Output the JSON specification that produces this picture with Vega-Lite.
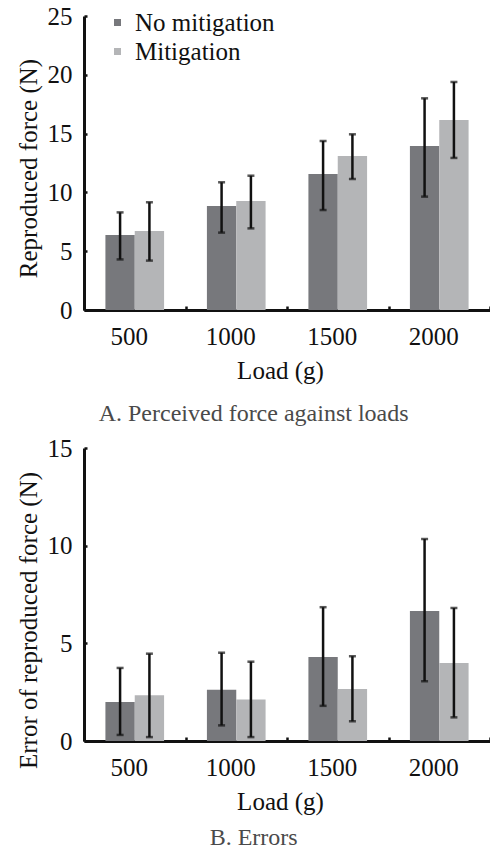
{
  "$schema": "https://vega.github.io/schema/vega-lite/v6.json",
  "padding": {"left": 16, "top": 4, "right": 0, "bottom": 0},
  "spacing": 138,
  "bounds": "flush",
  "config": {
    "view": {"stroke": null},
    "font": "Liberation Serif",
    "axis": {"labelFont": "Liberation Serif", "titleFont": "Liberation Serif", "labelFontSize": 25, "titleFontSize": 25, "titleFontWeight": "normal", "labelColor": "#111", "titleColor": "#111", "domainColor": "#111", "domainWidth": 3, "tickColor": "#111", "tickWidth": 2.5, "grid": false},
    "axisX": {"tickSize": -4, "labelPadding": 18, "labelAngle": 0, "tickBand": "extent", "titlePadding": 9, "labelOffset": -6},
    "axisY": {"tickSize": -3, "labelPadding": 15, "titlePadding": 6},
    "legend": {"labelFont": "Liberation Serif", "labelFontSize": 25, "labelColor": "#111", "symbolType": "square", "symbolSize": 49, "symbolStrokeWidth": 0, "labelOffset": 5, "rowPadding": 3},
    "title": {"font": "Liberation Serif", "fontSize": 24, "fontWeight": "normal", "color": "#4a4a4a"}
  },
  "datasets": {
    "force": [
      {"load": "500", "cond": "No mitigation", "mean": 6.38, "lo": 4.3, "hi": 8.3},
      {"load": "500", "cond": "Mitigation", "mean": 6.72, "lo": 4.2, "hi": 9.16},
      {"load": "1000", "cond": "No mitigation", "mean": 8.84, "lo": 6.58, "hi": 10.86},
      {"load": "1000", "cond": "Mitigation", "mean": 9.27, "lo": 6.94, "hi": 11.42},
      {"load": "1500", "cond": "No mitigation", "mean": 11.56, "lo": 8.5, "hi": 14.37},
      {"load": "1500", "cond": "Mitigation", "mean": 13.1, "lo": 11.14, "hi": 14.94},
      {"load": "2000", "cond": "No mitigation", "mean": 13.95, "lo": 9.64, "hi": 18.0},
      {"load": "2000", "cond": "Mitigation", "mean": 16.16, "lo": 12.93, "hi": 19.39}
    ],
    "error": [
      {"load": "500", "cond": "No mitigation", "mean": 2.0, "lo": 0.31, "hi": 3.74},
      {"load": "500", "cond": "Mitigation", "mean": 2.34, "lo": 0.2, "hi": 4.47},
      {"load": "1000", "cond": "No mitigation", "mean": 2.63, "lo": 0.8, "hi": 4.52},
      {"load": "1000", "cond": "Mitigation", "mean": 2.12, "lo": 0.2, "hi": 4.06},
      {"load": "1500", "cond": "No mitigation", "mean": 4.3, "lo": 1.8, "hi": 6.85},
      {"load": "1500", "cond": "Mitigation", "mean": 2.66, "lo": 1.01, "hi": 4.34},
      {"load": "2000", "cond": "No mitigation", "mean": 6.66, "lo": 3.06, "hi": 10.34},
      {"load": "2000", "cond": "Mitigation", "mean": 3.99, "lo": 1.21, "hi": 6.81}
    ]
  },
  "vconcat": [
    {
      "width": 406,
      "height": 294,
      "title": {"text": "A. Perceived force against loads", "orient": "bottom", "offset": 19, "frame": "bounds", "anchor": "middle"},
      "data": {"name": "force"},
      "encoding": {
        "x": {"field": "load", "type": "nominal", "sort": null, "scale": {"paddingInner": 0, "paddingOuter": 0}, "axis": {"title": "Load (g)", "titleX": 196}},
        "xOffset": {"field": "cond", "type": "nominal", "sort": ["No mitigation", "Mitigation"], "scale": {"domain": ["No mitigation", "Mitigation"], "paddingOuter": 0.73, "paddingInner": 0}}
      },
      "layer": [
        {
          "mark": {"type": "bar"},
          "encoding": {
            "y": {"field": "mean", "type": "quantitative", "title": "Reproduced force (N)", "scale": {"domain": [0, 25], "nice": false}, "axis": {"values": [0, 5, 10, 15, 20, 25], "titleY": 152}},
            "color": {"field": "cond", "type": "nominal", "scale": {"domain": ["No mitigation", "Mitigation"], "range": ["#77787c", "#b4b5b7"]}, "legend": {"title": null, "orient": "none", "legendX": 21, "legendY": -6}}
          }
        },
        {
          "mark": {"type": "rule", "color": "#111", "strokeWidth": 2.5},
          "encoding": {"y": {"field": "lo", "type": "quantitative", "title": "Reproduced force (N)"}, "y2": {"field": "hi"}}
        },
        {
          "mark": {"type": "tick", "orient": "horizontal", "color": "#111", "size": 7, "thickness": 2.5},
          "encoding": {"y": {"field": "lo", "type": "quantitative", "title": "Reproduced force (N)"}}
        },
        {
          "mark": {"type": "tick", "orient": "horizontal", "color": "#111", "size": 7, "thickness": 2.5},
          "encoding": {"y": {"field": "hi", "type": "quantitative", "title": "Reproduced force (N)"}}
        }
      ]
    },
    {
      "width": 406,
      "height": 293,
      "title": {"text": "B. Errors", "orient": "bottom", "offset": 12, "frame": "bounds", "anchor": "middle"},
      "data": {"name": "error"},
      "encoding": {
        "x": {"field": "load", "type": "nominal", "sort": null, "scale": {"paddingInner": 0, "paddingOuter": 0}, "axis": {"title": "Load (g)", "titleX": 196}},
        "xOffset": {"field": "cond", "type": "nominal", "sort": ["No mitigation", "Mitigation"], "scale": {"domain": ["No mitigation", "Mitigation"], "paddingOuter": 0.73, "paddingInner": 0}}
      },
      "layer": [
        {
          "mark": {"type": "bar"},
          "encoding": {
            "y": {"field": "mean", "type": "quantitative", "title": "Error of reproduced force (N)", "scale": {"domain": [0, 15], "nice": false}, "axis": {"values": [0, 5, 10, 15], "titleY": 172}},
            "color": {"field": "cond", "type": "nominal", "scale": {"domain": ["No mitigation", "Mitigation"], "range": ["#77787c", "#b4b5b7"]}, "legend": null}
          }
        },
        {
          "mark": {"type": "rule", "color": "#111", "strokeWidth": 2.5},
          "encoding": {"y": {"field": "lo", "type": "quantitative", "title": "Error of reproduced force (N)"}, "y2": {"field": "hi"}}
        },
        {
          "mark": {"type": "tick", "orient": "horizontal", "color": "#111", "size": 7, "thickness": 2.5},
          "encoding": {"y": {"field": "lo", "type": "quantitative", "title": "Error of reproduced force (N)"}}
        },
        {
          "mark": {"type": "tick", "orient": "horizontal", "color": "#111", "size": 7, "thickness": 2.5},
          "encoding": {"y": {"field": "hi", "type": "quantitative", "title": "Error of reproduced force (N)"}}
        }
      ]
    }
  ]
}
